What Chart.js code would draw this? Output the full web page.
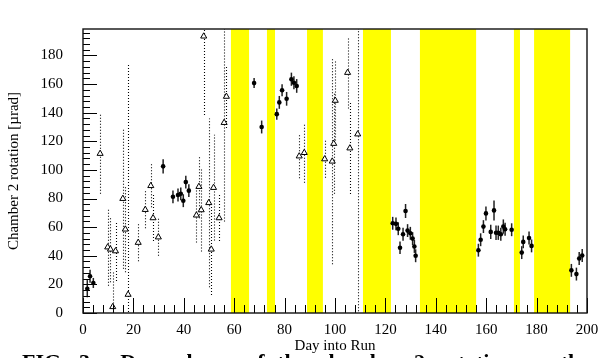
<!DOCTYPE html>
<html>
<head>
<meta charset="utf-8">
<script src="https://cdn.jsdelivr.net/npm/chart.js@4.4.0/dist/chart.umd.min.js"></script>
<style>
  html, body { margin: 0; padding: 0; background: #fff; overflow: hidden; }
  #wrap { position: relative; width: 598px; height: 358px; overflow: hidden; }
  #caption {
    position: absolute; left: 22px; top: 349px; width: 568px;
    font: bold 22px "Liberation Serif", "Times New Roman", serif;
    line-height: 26px; text-align: justify; text-align-last: justify;
  }
</style>
</head>
<body>
<div id="wrap">
  <canvas id="chart" width="598" height="358"></canvas>
  <div id="caption">FIG. 3.&nbsp; Dependence of the chamber 2 rotation on the</div>
</div>
<script>
// filled circles, solid error bars
const dayC = [1.7, 2.8, 4.1, 31.8, 35.7, 37.7, 38.8, 39.8, 40.8, 42,
  67.9, 70.9, 76.9, 77.9, 79, 80.8, 82.7, 83.7, 84.8,
  122.9, 124.2, 125.1, 125.8, 127, 128, 128.8, 129.9, 130.8, 131.5, 132,
  156.9, 157.8, 158.9, 159.9, 161.8, 163.1, 163.9, 164.8, 165.8, 166.8, 167.5, 170.1,
  174.1, 174.7, 177, 178, 193.8, 195.8, 196.9, 198.1];
const rotC = [17, 25.7, 21, 102.5, 81.2, 82.5, 83.3, 78.5, 91.5, 85.5,
  160.7, 130, 139, 147.2, 155.7, 149.7, 163.4, 160.9, 158.7,
  62.7, 62.3, 58.9, 45.6, 55, 71.3, 57.6, 55.7, 52, 46.5, 40,
  43.9, 51.2, 60.4, 69.6, 56.7, 71.7, 56.1, 56.1, 55, 60.4, 58.5, 58.2,
  42.2, 49.7, 52.4, 46.9, 29.8, 27.2, 38.1, 40.2];
const errC = [6, 4.5, 3.5, 5, 4.5, 4.5, 4.5, 4.5, 4.5, 4.5,
  3.5, 4.5, 4, 4.5, 4.2, 4.8, 4.6, 4.5, 4.8,
  4.5, 4.5, 4.5, 4.3, 4.5, 4.9, 4.5, 4.5, 4.5, 4.5, 4.5,
  4.5, 4.5, 4.5, 4.9, 5, 7, 5, 5, 4.5, 5, 4.5, 4.5,
  4.5, 4.5, 4.5, 4.5, 4.5, 4.5, 4.5, 4.5];

// open triangles, dotted error bars
const dayT = [6.8, 9.8, 10.9, 11.8, 12.9, 15.8, 16.8, 17.9, 21.9, 24.7, 26.9, 27.8, 29.9,
  45, 46, 46.9, 47.9, 49.9, 50.9, 51.8, 54, 56, 56.9,
  85.8, 87.8, 95.9, 98.9, 99.5, 100.1, 105, 105.9, 109];
const rotT = [111.4, 46, 44.5, 4.3, 43.3, 79.9, 58.5, 12.9, 49.2, 72.2, 88.9, 66.4, 53,
  68.3, 88.3, 72, 193.4, 77, 44.5, 87.6, 66.4, 133, 151.3,
  109.6, 112, 107.6, 106, 118.4, 148.5, 168, 115.2, 125];
const errT = [28, 27, 23, 25, 21, 49, 30, 161, 13, 13, 15, 16, 13,
  19, 22, 29, 55, 59, 32, 37, 16, 69, 22,
  15.5, 21, 13, 72, 35, 28, 25, 32, 130];

// yellow periods (day from, day to)
const bandStart = [58.7, 73.0, 88.9, 111.1, 133.7, 171.0, 179.0];
const bandEnd = [65.9, 76.2, 95.2, 122.2, 156.0, 173.4, 193.3];

const xTicks = [0, 20, 40, 60, 80, 100, 120, 140, 160, 180, 200];
const yTicks = [0, 20, 40, 60, 80, 100, 120, 140, 160, 180];
const X_MINOR = 4, Y_MINOR = 4;

const serif = '"Liberation Serif", "Times New Roman", serif';
Chart.defaults.font.family = serif;
Chart.defaults.color = '#000';

const extras = {
  id: 'extras',
  beforeDatasetsDraw(chart) {
    const {ctx, chartArea: a, scales: {x, y}} = chart;
    ctx.save();
    ctx.beginPath();
    ctx.rect(a.left, a.top, a.right - a.left, a.bottom - a.top);
    ctx.clip();
    ctx.fillStyle = '#ffff00';
    bandStart.forEach((s, i) => {
      const x0 = x.getPixelForValue(s), x1 = x.getPixelForValue(bandEnd[i]);
      ctx.fillRect(x0, a.top, x1 - x0, a.bottom - a.top);
    });
    // dotted error bars
    ctx.strokeStyle = '#000';
    ctx.lineWidth = 1.1;
    ctx.setLineDash([1, 2]);
    dayT.forEach((d, i) => {
      const px = Math.round(x.getPixelForValue(d)) + 0.5;
      ctx.beginPath();
      ctx.moveTo(px, y.getPixelForValue(rotT[i] - errT[i]));
      ctx.lineTo(px, y.getPixelForValue(rotT[i] + errT[i]));
      ctx.stroke();
    });
    // solid error bars
    ctx.setLineDash([]);
    ctx.lineWidth = 1.5;
    ctx.strokeStyle = '#222';
    dayC.forEach((d, i) => {
      const px = x.getPixelForValue(d);
      ctx.beginPath();
      ctx.moveTo(px, y.getPixelForValue(rotC[i] - errC[i]));
      ctx.lineTo(px, y.getPixelForValue(rotC[i] + errC[i]));
      ctx.stroke();
    });
    ctx.restore();
  },
  afterDatasetsDraw(chart) {
    const {ctx, chartArea: a, scales: {x, y}} = chart;
    ctx.save();
    ctx.strokeStyle = '#000';
    ctx.lineWidth = 1;
    ctx.beginPath();
    for (let v = x.min; v <= x.max; v += X_MINOR) {
      const px = Math.round(x.getPixelForValue(v)) + 0.5;
      const len = xTicks.includes(v) ? 15 : 8;
      ctx.moveTo(px, a.bottom);
      ctx.lineTo(px, a.bottom - len);
    }
    for (let v = y.min; v <= y.max; v += Y_MINOR) {
      const py = Math.round(y.getPixelForValue(v)) + 0.5;
      const len = yTicks.includes(v) ? 14 : 7;
      ctx.moveTo(a.left, py);
      ctx.lineTo(a.left + len, py);
    }
    ctx.stroke();
    ctx.lineWidth = 1.4;
    ctx.strokeStyle = '#111';
    ctx.strokeRect(a.left, a.top, a.right - a.left, a.bottom - a.top);
    ctx.restore();
  }
};

new Chart(document.getElementById('chart'), {
  type: 'scatter',
  data: {
    datasets: [
      {
        label: 'triangles',
        data: dayT.map((d, i) => ({x: d, y: rotT[i]})),
        pointStyle: 'triangle',
        pointRadius: 3.5,
        backgroundColor: '#fff',
        borderColor: '#000',
        borderWidth: 1
      },
      {
        label: 'circles',
        data: dayC.map((d, i) => ({x: d, y: rotC[i]})),
        pointStyle: 'circle',
        pointRadius: 2.3,
        backgroundColor: '#000',
        borderColor: '#000',
        borderWidth: 0
      }
    ]
  },
  options: {
    responsive: false,
    animation: false,
    devicePixelRatio: 1,
    layout: {padding: {top: 4, right: 0, left: 0, bottom: 0}},
    plugins: {legend: {display: false}, tooltip: {enabled: false}},
    scales: {
      x: {
        type: 'linear', min: 0, max: 200,
        afterBuildTicks: s => { s.ticks = xTicks.map(v => ({value: v})); },
        afterFit: s => { s.height = 45; s.paddingRight = 11; },
        grid: {display: false, drawTicks: false},
        border: {display: false},
        ticks: {font: {size: 15}, padding: 8, color: '#000'},
        title: {display: true, text: 'Day into Run', font: {size: 15}, color: '#000', padding: {top: 0, bottom: 3}}
      },
      y: {
        type: 'linear', min: 0, max: 198.5,
        afterBuildTicks: s => { s.ticks = yTicks.map(v => ({value: v})); },
        afterFit: s => { s.width = 83; },
        grid: {display: false, drawTicks: false},
        border: {display: false},
        ticks: {font: {size: 15}, padding: 20, color: '#000'},
        title: {display: true, text: 'Chamber 2 rotation [µrad]', font: {size: 15}, color: '#000', padding: {top: 5, bottom: 0}}
      }
    }
  },
  plugins: [extras]
});
</script>
</body>
</html>
